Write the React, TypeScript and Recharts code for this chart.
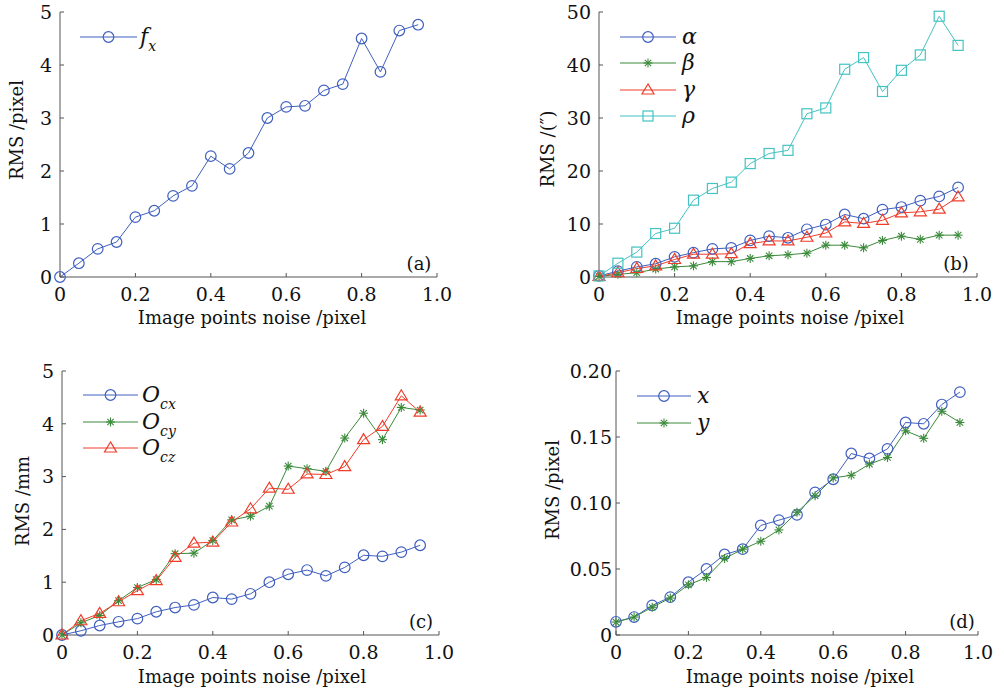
import React from 'react';
import { LineChart, Line, XAxis, YAxis } from 'recharts';

const noise = [0, 0.05, 0.1, 0.15, 0.2, 0.25, 0.3, 0.35, 0.4, 0.45, 0.5, 0.55, 0.6, 0.65, 0.7, 0.75, 0.8, 0.85, 0.9, 0.95];

const fx = [0, 0.26, 0.53, 0.66, 1.13, 1.25, 1.53, 1.72, 2.28, 2.04, 2.34, 3.0, 3.21, 3.23, 3.52, 3.64, 4.5, 3.87, 4.65, 4.76];

const alpha = [0.2, 1.1, 1.9, 2.5, 3.8, 4.6, 5.3, 5.5, 6.9, 7.7, 7.4, 9.0, 9.9, 11.8, 11.0, 12.7, 13.2, 14.4, 15.2, 16.9];
const beta = [0.1, 0.5, 0.8, 1.5, 1.9, 2.1, 2.9, 2.9, 3.5, 4.0, 4.2, 4.5, 6.0, 6.0, 5.5, 6.9, 7.7, 7.1, 7.9, 7.9];
const gamma = [0.1, 0.8, 1.6, 2.1, 3.3, 4.3, 4.3, 4.4, 6.3, 6.8, 6.8, 7.5, 8.3, 10.4, 10.1, 10.7, 12.1, 12.3, 12.8, 15.1];
const rho = [0.2, 2.6, 4.7, 8.2, 9.2, 14.5, 16.7, 17.9, 21.4, 23.3, 23.9, 30.8, 31.9, 39.2, 41.4, 35.0, 39.0, 41.9, 49.2, 43.7];

const ocx = [0, 0.08, 0.18, 0.25, 0.31, 0.44, 0.52, 0.57, 0.71, 0.68, 0.78, 1.0, 1.15, 1.23, 1.12, 1.28, 1.51, 1.49, 1.57, 1.7];
const ocy = [0, 0.23, 0.37, 0.65, 0.9, 1.05, 1.54, 1.55, 1.79, 2.18, 2.25, 2.44, 3.2, 3.15, 3.1, 3.73, 4.2, 3.7, 4.31, 4.26];
const ocz = [0, 0.27, 0.41, 0.63, 0.84, 1.03, 1.47, 1.74, 1.76, 2.14, 2.39, 2.78, 2.76, 3.05, 3.04, 3.19, 3.7, 3.95, 4.53, 4.22];

const px = [0.01, 0.0136, 0.0224, 0.0287, 0.04, 0.05, 0.061, 0.065, 0.083, 0.087, 0.091, 0.108, 0.118, 0.1375, 0.1337, 0.141, 0.161, 0.16, 0.1746, 0.184];
const py = [0.0098, 0.0136, 0.021, 0.028, 0.038, 0.0436, 0.058, 0.065, 0.071, 0.0796, 0.093, 0.1055, 0.119, 0.121, 0.1295, 0.1345, 0.1547, 0.149, 0.1695, 0.161];

const xTicks = [0, 0.2, 0.4, 0.6, 0.8, 1.0];
const yTicksA = [0, 1, 2, 3, 4, 5];
const yTicksB = [0, 10, 20, 30, 40, 50];
const yTicksD = [0, 0.05, 0.1, 0.15, 0.2];

const FONT = '"DejaVu Serif", serif';
const BLUE = '#3f5fbf';
const GREEN = '#3a8a3a';
const RED = '#f03c28';
const CYAN = '#45c2c2';

type Kind = 'circle' | 'star' | 'triangle' | 'square';

const Marker = ({ kind, cx, cy, color }: { kind: Kind; cx: number; cy: number; color: string }) => {
  if (cx == null || cy == null) return null;
  if (kind === 'circle') return <circle cx={cx} cy={cy} r={5.3} fill="none" stroke={color} strokeWidth={1.2} />;
  if (kind === 'square') return <rect x={cx - 5} y={cy - 5} width={10} height={10} fill="none" stroke={color} strokeWidth={1.2} />;
  if (kind === 'triangle')
    return <polygon points={`${cx},${cy - 6} ${cx - 6},${cy + 4} ${cx + 6},${cy + 4}`} fill="none" stroke={color} strokeWidth={1.2} />;
  const r = 4.5, d = 3.2;
  return (
    <g stroke={color} strokeWidth={1.1}>
      <line x1={cx - r} y1={cy} x2={cx + r} y2={cy} />
      <line x1={cx} y1={cy - r} x2={cx} y2={cy + r} />
      <line x1={cx - d} y1={cy - d} x2={cx + d} y2={cy + d} />
      <line x1={cx - d} y1={cy + d} x2={cx + d} y2={cy - d} />
    </g>
  );
};

interface Series { key: string; values: number[]; color: string; kind: Kind; label: React.ReactNode }

interface PanelProps {
  left: number; top: number; width: number; height: number;
  margin: { top: number; right: number; bottom: number; left: number };
  yw: number; yTickMargin: number;
  yDomain: [number, number]; yTicks: number[]; yFmt: (v: number) => string;
  series: Series[];
}

const fmtX = (v: number) => (v === 0 ? '0' : v.toFixed(1));
const tickStyle = { fill: '#111', fontSize: 19, fontFamily: FONT };

const Panel = ({ left, top, width, height, margin, yw, yTickMargin, yDomain, yTicks, yFmt, series }: PanelProps) => {
  const data = noise.map((n, i) => {
    const row: any = { n };
    series.forEach(s => { row[s.key] = s.values[i]; });
    return row;
  });
  return (
    <div style={{ position: 'absolute', left, top }}>
      <LineChart width={width} height={height} data={data} margin={margin}>
        <XAxis dataKey="n" type="number" domain={[0, 1]} ticks={xTicks} tickFormatter={fmtX}
          tickSize={-4} tickMargin={15} stroke="#555" tick={tickStyle} height={30} interval={0} />
        <XAxis xAxisId="top" orientation="top" dataKey="n" type="number" domain={[0, 1]} ticks={xTicks}
          tickSize={-4} tick={false} stroke="#999" height={0} />
        <YAxis type="number" domain={yDomain} ticks={yTicks} tickFormatter={yFmt} tickSize={-4}
          tickMargin={yTickMargin} stroke="#555" tick={tickStyle} width={yw} interval={0} />
        <YAxis yAxisId="right" orientation="right" type="number" domain={yDomain} ticks={yTicks}
          tickSize={-4} tick={false} stroke="#999" width={0} />
        {series.map(s => (
          <Line key={s.key} dataKey={s.key} stroke={s.color} strokeWidth={1} isAnimationActive={false}
            activeDot={false}
            dot={(p: any) => <Marker key={`${s.key}-${p.index}`} kind={s.kind} cx={p.cx} cy={p.cy} color={s.color} />} />
        ))}
      </LineChart>
    </div>
  );
};

const LegendBox = ({ left, top, series, lineW, gap, row }: { left: number; top: number; series: Series[]; lineW: number; gap: number; row: number }) => (
  <div style={{ position: 'absolute', left, top }}>
    {series.map(s => (
      <div key={s.key} style={{ display: 'flex', alignItems: 'center', height: row }}>
        <svg width={lineW} height={16} style={{ display: 'block' }}>
          <line x1={0} y1={8} x2={lineW} y2={8} stroke={s.color} strokeWidth={1} />
          <Marker kind={s.kind} cx={lineW / 2} cy={8} color={s.color} />
        </svg>
        <span style={{ marginLeft: gap, fontStyle: 'italic', fontSize: 22, fontFamily: FONT, color: '#111', lineHeight: 1 }}>{s.label}</span>
      </div>
    ))}
  </div>
);

const Sub = ({ base, sub }: { base: string; sub: string }) => (
  <span style={{ whiteSpace: 'nowrap' }}>
    {base}
    <span style={{ fontSize: 14, position: 'relative', top: 7 }}>{sub}</span>
  </span>
);

const Text = ({ x, y, children, rotate, size = 18 }: { x: number; y: number; children: React.ReactNode; rotate?: boolean; size?: number }) => (
  <div style={{
    position: 'absolute', left: x, top: y, fontFamily: FONT, fontSize: size, color: '#111', whiteSpace: 'nowrap',
    transform: `translate(-50%, -50%)${rotate ? ' rotate(-90deg)' : ''}`, lineHeight: 1,
  }}>{children}</div>
);

const seriesA: Series[] = [{ key: 'fx', values: fx, color: BLUE, kind: 'circle', label: <Sub base="f" sub="x" /> }];
const seriesB: Series[] = [
  { key: 'alpha', values: alpha, color: BLUE, kind: 'circle', label: 'α' },
  { key: 'beta', values: beta, color: GREEN, kind: 'star', label: 'β' },
  { key: 'gamma', values: gamma, color: RED, kind: 'triangle', label: 'γ' },
  { key: 'rho', values: rho, color: CYAN, kind: 'square', label: 'ρ' },
];
const seriesC: Series[] = [
  { key: 'ocx', values: ocx, color: BLUE, kind: 'circle', label: <Sub base="O" sub="cx" /> },
  { key: 'ocy', values: ocy, color: GREEN, kind: 'star', label: <Sub base="O" sub="cy" /> },
  { key: 'ocz', values: ocz, color: RED, kind: 'triangle', label: <Sub base="O" sub="cz" /> },
];
const seriesD: Series[] = [
  { key: 'px', values: px, color: BLUE, kind: 'circle', label: 'x' },
  { key: 'py', values: py, color: GREEN, kind: 'star', label: 'y' },
];

const fmtInt = (v: number) => String(v);
const fmtD = (v: number) => (v === 0 ? '0' : v.toFixed(2));

export default function App() {
  return (
    <div style={{ position: 'absolute', left: 0, top: 0, width: 1004, height: 693, background: '#fff', overflow: 'hidden' }}>
      <Panel left={0} top={0} width={460} height={340} margin={{ top: 12, right: 23, bottom: 33, left: 20 }}
        yw={40} yTickMargin={12} yDomain={[0, 5]} yTicks={yTicksA} yFmt={fmtInt} series={seriesA} />
      <Panel left={540} top={0} width={464} height={340} margin={{ top: 12, right: 27, bottom: 33, left: 19 }}
        yw={40} yTickMargin={12} yDomain={[0, 50]} yTicks={yTicksB} yFmt={fmtInt} series={seriesB} />
      <Panel left={0} top={340} width={460} height={353} margin={{ top: 31, right: 21, bottom: 28, left: 22 }}
        yw={40} yTickMargin={12} yDomain={[0, 5]} yTicks={yTicksA} yFmt={fmtInt} series={seriesC} />
      <Panel left={540} top={340} width={464} height={353} margin={{ top: 31, right: 26, bottom: 28, left: 26 }}
        yw={50} yTickMargin={8} yDomain={[0, 0.2]} yTicks={yTicksD} yFmt={fmtD} series={seriesD} />

      <LegendBox left={80} top={24} series={seriesA} lineW={57} gap={3} row={26} />
      <LegendBox left={620} top={24} series={seriesB} lineW={56} gap={6} row={26.3} />
      <LegendBox left={83} top={382} series={seriesC} lineW={55} gap={4} row={26.5} />
      <LegendBox left={637} top={382} series={seriesD} lineW={54} gap={6} row={27} />

      <Text x={252} y={318}>Image points noise /pixel</Text>
      <Text x={790} y={318}>Image points noise /pixel</Text>
      <Text x={252} y={677}>Image points noise /pixel</Text>
      <Text x={800} y={677}>Image points noise /pixel</Text>

      <Text x={17} y={130} rotate>RMS /pixel</Text>
      <Text x={548} y={149} rotate>RMS /(″)</Text>
      <Text x={23} y={501} rotate>RMS /mm</Text>
      <Text x={553} y={490} rotate>RMS /pixel</Text>

      <Text x={419} y={264}>(a)</Text>
      <Text x={956} y={264}>(b)</Text>
      <Text x={421} y={622}>(c)</Text>
      <Text x={962} y={622}>(d)</Text>
    </div>
  );
}
